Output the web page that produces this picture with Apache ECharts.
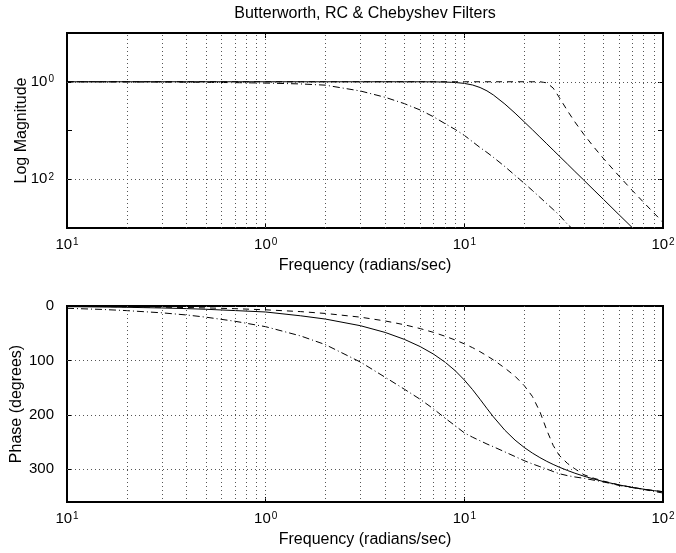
<!DOCTYPE html>
<html>
<head>
<meta charset="utf-8">
<script src="https://cdn.jsdelivr.net/npm/echarts@6/dist/echarts.min.js"></script>
<style>
html, body { margin: 0; padding: 0; background: #fff; }
#chart { width: 676px; height: 553px; }
</style>
</head>
<body>
<div id="chart"></div>
<script>
// frequency samples (radians/sec), shared by all curves
const freq = [0.1, 0.15, 0.2, 0.3, 0.4, 0.5, 0.7, 1, 1.5, 2, 3, 4, 5, 6, 7, 8, 9,
  10, 11, 12, 13, 14, 16, 18, 20, 22, 24, 26, 28, 30, 33, 36, 40, 45, 50, 60, 70, 80, 90, 100];

// magnitude
const butterMag = [1, 1, 1, 1, 1, 1, 1, 1, 1, 1, 1, 1, 1, 0.999, 0.995, 0.986, 0.966,
  0.925, 0.858, 0.762, 0.650, 0.536, 0.349, 0.227, 0.151, 0.104, 0.0735, 0.0534, 0.0397, 0.0301,
  0.0206, 0.0145, 0.00954, 0.00595, 0.00391, 0.00188, 0.00102, 0.000596, 0.000372, 0.000244];
const chebyMag = [1, 1, 1, 1, 1, 1, 1, 1, 1, 1, 1, 1, 1, 1, 1, 1, 1,
  1, 1, 1, 1, 1, 1, 1, 1, 1, 1, 0.95, 0.742, 0.482,
  0.256, 0.150, 0.0828, 0.0451, 0.0270, 0.0117, 0.00591, 0.00334, 0.00203, 0.00131];
const rcMag = [0.998, 0.995, 0.993, 0.986, 0.979, 0.973, 0.959, 0.940, 0.902, 0.851,
  0.646, 0.479, 0.355, 0.263, 0.191, 0.138, 0.105,
  0.0794, 0.0589, 0.0447, 0.0355, 0.0282, 0.0182, 0.0120, 0.00832, 0.00589, 0.00427, 0.00316, 0.00240, 0.00186,
  0.00120, 0.00087, 0.00066, 0.00043, 0.00030, 0.00016, 0.000089, 0.000056, 0.000037, 0.000025];

// phase, degrees as printed on the axis
const butterPhase = [1.2, 1.8, 2.4, 3.6, 4.8, 6.0, 8.4, 11, 18, 24,
  36.2, 48.6, 61.4, 74.6, 88.4, 103.2, 118.9,
  135.9, 153.6, 171.4, 188.3, 203.5, 228.2, 246.3, 259.7, 270.1, 278.4, 285.3, 291, 295.9,
  302, 307.1, 312.6, 317.9, 322.3, 328.6, 333.2, 336.5, 339.1, 341.2];
const chebyPhase = [0.7, 1.0, 1.4, 2.1, 2.8, 3.5, 4.9, 7, 10.3, 13.7,
  20.5, 27.5, 34.5, 41.5, 48.5, 55.5, 62.5,
  69.5, 76.5, 84, 91.5, 99, 114, 129, 146, 166, 194, 228, 256, 274,
  289, 299, 310, 316.5, 321.5, 328.5, 333, 336.5, 339, 341];
const rcPhase = [4.2, 6.3, 8.5, 12.5, 16.5, 20.5, 28, 38, 55, 71,
  103, 131, 153, 171.5, 189, 206, 220,
  233, 241, 247.5, 253.5, 258.5, 268, 276.5, 284, 290, 295, 299.5, 304, 308,
  311.5, 314, 316.5, 320, 323, 329.5, 333.5, 337, 340.5, 343.5];

// ticks and labels as they appear
const freqTicks = [0.1, 1, 10, 100];
const freqTickSup = ['1', '0', '1', '2'];
const freqGrid = [0.2, 0.3, 0.4, 0.5, 0.6, 0.7, 0.8, 0.9, 1, 2, 3, 4, 5, 6, 7, 8, 9, 10,
  20, 30, 40, 50, 60, 70, 80, 90];
const magLabelTicks = [1, 0.01];
const magTickSup = ['0', '2'];
const phaseTicks = [0, 100, 200, 300];

const FONT = '"Liberation Sans", Arial, Helvetica, sans-serif';

function pair(ys) {
  return freq.map((f, i) => [f, ys[i]]);
}

function powLabel(ticks, sups) {
  return function (v) {
    const i = ticks.findIndex(t => Math.abs(Math.log10(t) - Math.log10(v)) < 1e-6);
    return i < 0 ? '' : '{b|10}{s|' + sups[i] + '}';
  };
}

const rich = {
  b: { fontSize: 15, fontFamily: FONT, color: '#000' },
  s: { fontSize: 10, fontFamily: FONT, color: '#000', verticalAlign: 'top', padding: [0, 0, 0, 1] }
};

function gridLines(key, values) {
  return {
    silent: true,
    symbol: 'none',
    animation: false,
    label: { show: false },
    emphasis: { disabled: true },
    lineStyle: { color: '#555', width: 1, type: [1, 3] },
    data: values.map(v => ({ [key]: v }))
  };
}

const nameStyle = { fontSize: 16, fontFamily: FONT, color: '#000' };
const tickStyle = { show: true, inside: true, length: 5, lineStyle: { color: '#000' } };

function freqAxis(gridIndex, position, showLabel) {
  return {
    type: 'log',
    logBase: 10,
    gridIndex: gridIndex,
    position: position,
    min: 0.1,
    max: 100,
    name: showLabel ? 'Frequency (radians/sec)' : '',
    nameLocation: 'middle',
    nameGap: 30,
    nameMoveOverlap: false,
    nameTextStyle: nameStyle,
    axisLine: gridIndex === 0 ? { show: true, lineStyle: { color: '#000' } }
      : { show: true, onZero: false, lineStyle: { color: '#000' } },
    axisTick: tickStyle,
    axisLabel: { show: showLabel, margin: 9,
      formatter: powLabel(freqTicks, freqTickSup), rich: rich },
    splitLine: { show: false }
  };
}

function magAxis(position, showLabel) {
  return {
    type: 'log',
    logBase: 10,
    gridIndex: 0,
    position: position,
    min: 0.001,
    max: 10,
    name: showLabel ? 'Log Magnitude' : '',
    nameLocation: 'middle',
    nameGap: 37,
    nameMoveOverlap: false,
    nameTextStyle: nameStyle,
    axisLine: { show: true, lineStyle: { color: '#000' } },
    axisTick: tickStyle,
    axisLabel: { show: showLabel, margin: 13,
      formatter: powLabel(magLabelTicks, magTickSup), rich: rich },
    splitLine: { show: false }
  };
}

function phaseAxis(position, showLabel) {
  return {
    type: 'value',
    gridIndex: 1,
    position: position,
    inverse: true,
    min: 0,
    max: 360,
    interval: 100,
    name: showLabel ? 'Phase (degrees)' : '',
    nameLocation: 'middle',
    nameGap: 42,
    nameMoveOverlap: false,
    nameTextStyle: nameStyle,
    axisLine: { show: true, onZero: false, lineStyle: { color: '#000' } },
    axisTick: tickStyle,
    axisLabel: { show: showLabel, margin: 13,
      formatter: v => (phaseTicks.indexOf(v) < 0 ? '' : String(v)),
      fontSize: 15, fontFamily: FONT, color: '#000' },
    splitLine: { show: false }
  };
}

function curve(name, xi, yi, data, type, extra) {
  return Object.assign({
    name: name,
    type: 'line',
    xAxisIndex: xi,
    yAxisIndex: yi,
    data: pair(data),
    symbol: 'none',
    smooth: false,
    silent: true,
    animation: false,
    lineStyle: { color: '#000', width: 1, type: type }
  }, extra || {});
}

const chart = echarts.init(document.getElementById('chart'));

// the grid border draws the box round each plot
const box = { show: true, borderColor: '#000', borderWidth: 2, backgroundColor: 'transparent',
  outerBoundsMode: 'none', containLabel: false };

const option = {
  backgroundColor: '#fff',
  animation: false,
  title: {
    text: 'Butterworth, RC & Chebyshev Filters',
    left: 365,
    top: 6,
    padding: 0,
    textAlign: 'center',
    textStyle: { fontSize: 16, fontWeight: 'normal', fontFamily: FONT, color: '#000' }
  },
  grid: [
    Object.assign({ left: 67, right: 13, top: 33, height: 195 }, box),
    Object.assign({ left: 67, right: 13, top: 306, height: 196 }, box)
  ],
  xAxis: [
    freqAxis(0, 'bottom', true),
    freqAxis(0, 'top', false),
    freqAxis(1, 'bottom', true),
    freqAxis(1, 'top', false)
  ],
  yAxis: [
    magAxis('left', true),
    magAxis('right', false),
    phaseAxis('left', true),
    phaseAxis('right', false)
  ],
  series: [
    curve('grid-x-top', 0, 0, [], 'solid', { markLine: gridLines('xAxis', freqGrid) }),
    curve('grid-y-top', 0, 0, [], 'solid', { markLine: gridLines('yAxis', magLabelTicks) }),
    curve('Butterworth', 0, 0, butterMag, 'solid'),
    curve('Chebyshev', 0, 0, chebyMag, [6, 5]),
    curve('RC', 0, 0, rcMag, [7, 3, 1, 3]),
    curve('grid-x-bottom', 2, 2, [], 'solid', { markLine: gridLines('xAxis', freqGrid) }),
    curve('grid-y-bottom', 2, 2, [], 'solid', { markLine: gridLines('yAxis', [100, 200, 300]) }),
    curve('Butterworth', 2, 2, butterPhase, 'solid'),
    curve('Chebyshev', 2, 2, chebyPhase, [6, 5]),
    curve('RC', 2, 2, rcPhase, [7, 3, 1, 3])
  ]
};

chart.setOption(option);
window.addEventListener('resize', () => chart.resize());
</script>
</body>
</html>
